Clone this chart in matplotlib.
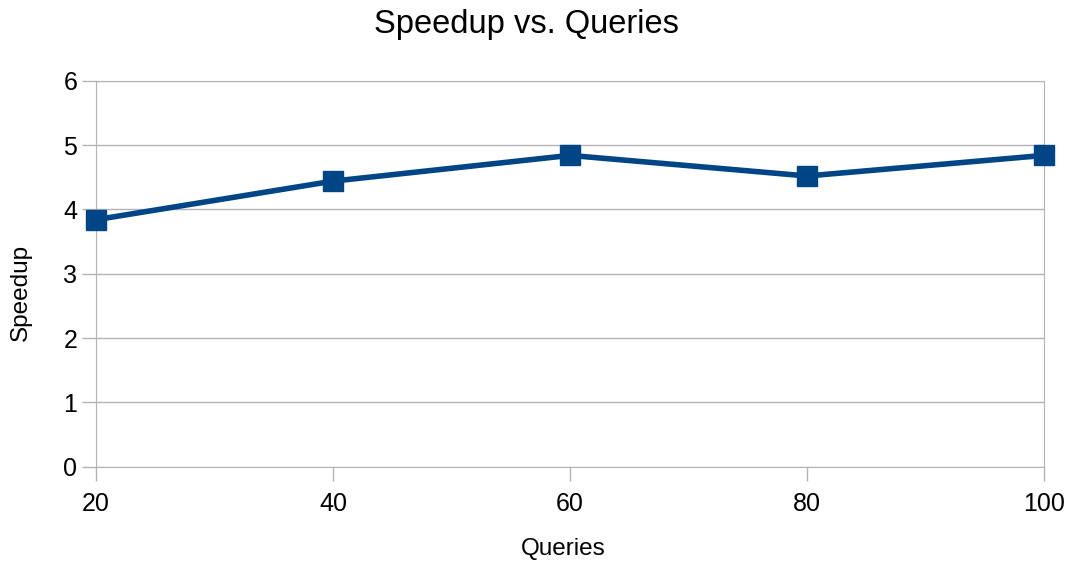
import matplotlib
matplotlib.use('Agg')
import matplotlib.pyplot as plt

queries = [20, 40, 60, 80, 100]
speedup = [3.84, 4.44, 4.84, 4.52, 4.84]
y_ticks = [0, 1, 2, 3, 4, 5, 6]

plt.rcParams['font.family'] = ['Liberation Sans', 'DejaVu Sans']

fig = plt.figure(figsize=(10.71, 5.65), dpi=100)
ax = fig.add_axes([0.0896, 0.174, 0.8852, 0.683])

ax.plot(queries, speedup, color='#004586', linewidth=4, marker='s', markersize=14,
        zorder=3, clip_on=False)

ax.set_xlim(20, 100)
ax.set_ylim(0, 6)
ax.set_xticks(queries)
ax.set_yticks(y_ticks)
ax.grid(axis='y', color='#b3b3b3', linewidth=1)
ax.set_axisbelow(True)
for s in ax.spines.values():
    s.set_color('#b3b3b3')
ax.tick_params(colors='#b3b3b3', labelcolor='black', labelsize=18, length=10, width=1)
ax.tick_params(axis='x', pad=8)

# axis titles placed like the original (not centred on the axes)
fig.text(563 / 1071, 1 - 549 / 565, 'Queries', fontsize=17.5, ha='center', va='center')
fig.text(21 / 1071, 1 - 292 / 565, 'Speedup', fontsize=17.5, ha='center', va='center',
         rotation=90)
fig.text(526 / 1071, 1 - 24 / 565, 'Speedup vs. Queries', fontsize=23.5,
         ha='center', va='center')

fig.savefig('out.png')
